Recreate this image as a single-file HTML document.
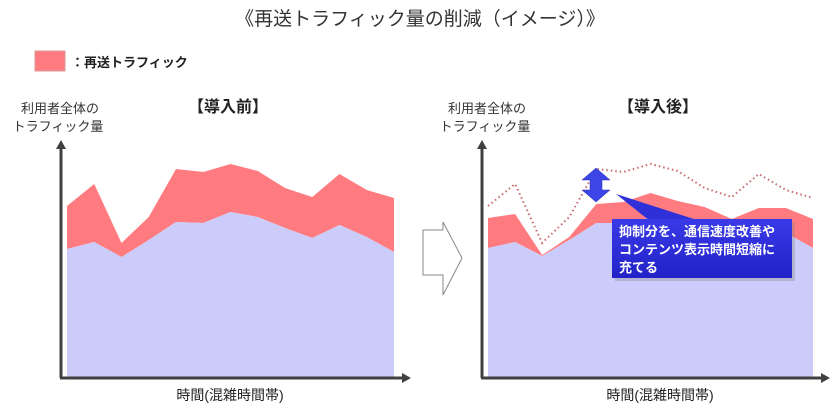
<!DOCTYPE html>
<html><head><meta charset="utf-8"><style>
body{margin:0;background:#fff;}
svg text{font-family:"Liberation Sans","Noto Sans CJK JP",sans-serif;}
</style></head><body>
<svg id="chart" width="840" height="415" viewBox="0 0 840 415" xmlns="http://www.w3.org/2000/svg">
<defs>
<linearGradient id="bg" x1="0" y1="0" x2="0" y2="1"><stop offset="0" stop-color="#3a3ae8"/><stop offset="1" stop-color="#2222c8"/></linearGradient>
</defs>
<text x="420" y="25" text-anchor="middle" font-size="19" fill="#333">《再送トラフィック量の削減（イメージ）》</text>
<rect x="35" y="51" width="30" height="20" fill="#ff7b7f" stroke="#d99" stroke-width="1"/>
<text x="71" y="67" font-size="13" font-weight="bold" fill="#222">：再送トラフィック</text>

<text x="228" y="112" text-anchor="middle" font-size="16" font-weight="bold" fill="#222">【導入前】</text>
<text x="60" y="113" text-anchor="middle" font-size="13" fill="#333">利用者全体の</text>
<text x="58" y="131" text-anchor="middle" font-size="13" fill="#333">トラフィック量</text>
<text x="658" y="112" text-anchor="middle" font-size="16" font-weight="bold" fill="#222">【導入後】</text>
<text x="487" y="113" text-anchor="middle" font-size="13" fill="#333">利用者全体の</text>
<text x="485" y="131" text-anchor="middle" font-size="13" fill="#333">トラフィック量</text>

<g id="left"></g>
<g id="right"></g>

<polygon points="423,230 443,230 443,222 462,258 443,295 443,275 423,275" fill="#fff" stroke="#888" stroke-width="1"/>

<text x="230" y="400" text-anchor="middle" font-size="14" fill="#222">時間(混雑時間帯)</text>
<text x="660" y="400" text-anchor="middle" font-size="14" fill="#222">時間(混雑時間帯)</text>

<g>
<polygon points="616,194 650,221 700,221" fill="#3030d8"/>
<rect x="615" y="222" width="180" height="59" fill="#888" opacity="0.35"/>
<rect x="612" y="219" width="180" height="59" fill="url(#bg)"/>
<text x="619" y="236" font-size="13" font-weight="bold" fill="#fff">抑制分を、通信速度改善や</text>
<text x="619" y="254" font-size="13" font-weight="bold" fill="#fff">コンテンツ表示時間短縮に</text>
<text x="619" y="272" font-size="13" font-weight="bold" fill="#fff">充てる</text>
</g>
<polygon points="596,168 610,180 602,180 602,190 610,190 596,202 582,190 590,190 590,180 582,180" fill="#3c46e6" stroke="#2a2ab0" stroke-width="0.5"/>
</svg>
<script>
const leftTotal=[171,193,134,160,208,205,213,206,189,180,203,187,179];
const leftBase=[128,135,120,137,155,154,165,160,149,139,152,140,125];
const rightTotal=[159,163,122,140,173,175,184,176,170,158,169,169,158];
const rightBase=[129,135,121,137,154,154,159,157,152,147,150,144,129];
const NS='http://www.w3.org/2000/svg';
function mk(tag,attrs,parent){const e=document.createElementNS(NS,tag);for(const k in attrs)e.setAttribute(k,attrs[k]);parent.appendChild(e);return e;}
function drawChart(g,x0,x1,base,total,dotted,prefix){
  const baseY=377;
  const xs=i=>x0+(x1-x0)*i/(base.length-1);
  const ys=v=>baseY-v;
  let top=total.map((v,i)=>xs(i)+','+ys(v));
  let bot=base.map((v,i)=>xs(i)+','+ys(v));
  const red=mk('polygon',{points:top.concat(bot.slice().reverse()).join(' '),fill:'#ff7b7f'},g);
  
  
  const blue=mk('polygon',{points:bot.concat([xs(base.length-1)+','+baseY, xs(0)+','+baseY]).join(' '),fill:'#ccccfa'},g);
  
  
  if(dotted){
    const pl=mk('polyline',{points:dotted.map((v,i)=>xs(i)+','+ys(v)).join(' '),fill:'none',stroke:'#c86a6a','stroke-width':2,'stroke-dasharray':'1.5,3'},g);
    
    
  }
  const ax=x0-6;
  const ya=mk('line',{x1:ax,y1:378,x2:ax,y2:146,stroke:'#404040','stroke-width':3},g);
  
  
  const yh=mk('polygon',{points:(ax-5)+',149 '+(ax+5)+',149 '+ax+',140',fill:'#404040'},g);
  
  
  const xa=mk('line',{x1:ax-1,y1:378,x2:x1+10,y2:378,stroke:'#404040','stroke-width':3},g);
  
  
  const xh=mk('polygon',{points:(x1+8)+',373 '+(x1+8)+',383 '+(x1+17)+',378',fill:'#404040'},g);
  
  
}
drawChart(document.getElementById('left'),67,394,leftBase,leftTotal,null,'before');
drawChart(document.getElementById('right'),488,813,rightBase,rightTotal,leftTotal,'after');
</script>
</body></html>
